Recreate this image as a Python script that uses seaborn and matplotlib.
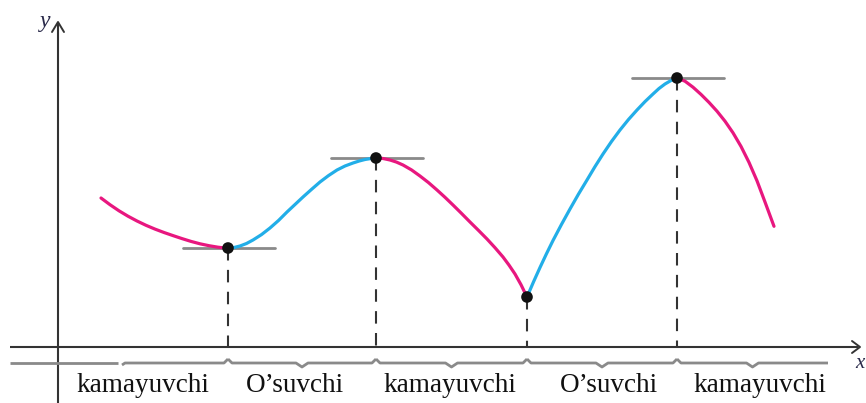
import matplotlib
matplotlib.use("Agg")
import matplotlib.pyplot as plt
import seaborn as sns
import pandas as pd

# ---- data (x measured from the y-axis, y measured up from the x-axis) ----
seg1_x = [43, 52, 61, 70, 79, 88, 97, 106, 115, 124, 133, 142, 151, 160, 165, 170]
seg1_y = [149, 142.3, 136.2, 130.8, 126, 121.7, 117.9, 114.5, 111.4, 108.4, 105.6,
          103.2, 101.3, 99.8, 99.25, 99]
seg2_x = [170, 176, 182, 188.5, 195, 203.5, 212, 220.5, 229, 237, 245, 253.5, 262,
          270.5, 279, 287, 295, 301, 307, 312.5, 318]
seg2_y = [99, 99.5, 101, 103.5, 107, 112.4, 119, 126.5, 135, 142.5, 150, 157.6, 165,
          171.4, 177, 181, 184, 185.95, 187.5, 188.4, 189]
seg3_x = [318, 325, 332, 338.5, 345, 353.5, 362, 370.5, 379, 387, 395, 403.5, 412,
          420.5, 429, 437, 445, 451, 457, 463, 469]
seg3_y = [189, 188.5, 187, 184.9, 182, 177.1, 171, 164.4, 157, 149.7, 142, 133.6, 125,
          116.6, 108, 99.3, 90, 81.9, 73, 62.3, 50]
seg4_x = [469, 475.5, 482, 488.5, 495, 503.5, 512, 520.5, 529, 537, 545, 553.5, 562,
          570.5, 579, 587, 595, 601, 607, 613, 619]
seg4_y = [50, 65.1, 79.5, 93.3, 106.5, 122.6, 138, 152.9, 167, 180.4, 193, 205.5, 217,
          227.5, 237, 245.4, 253, 258.5, 263, 266.5, 269]
seg5_x = [619, 627, 635, 643, 651, 659, 667, 675, 683, 691, 699, 707, 716]
seg5_y = [269, 265.8, 259.8, 252.6, 244.6, 235.8, 225.8, 214.2, 200.6, 184.6, 166.2,
          145, 120.7]

segments = [(seg1_x, seg1_y, "kamayuvchi"), (seg2_x, seg2_y, "O’suvchi"),
            (seg3_x, seg3_y, "kamayuvchi"), (seg4_x, seg4_y, "O’suvchi"),
            (seg5_x, seg5_y, "kamayuvchi")]

extrema_x = [170, 318, 469, 619]
extrema_y = [99, 189, 50, 269]
tangent_at = [True, True, False, True]

interval_labels = ["kamayuvchi", "O’suvchi", "kamayuvchi", "O’suvchi", "kamayuvchi"]
label_x = [85, 237, 392, 551, 702]
brace_bounds = [0, 170, 318, 469, 619, 770]

PINK = "#E8177F"
BLUE = "#22AEE8"
AX = "#333333"
GRAY = "#8A8A8A"

rows = []
for i, (xs, ys, kind) in enumerate(segments):
    for xv, yv in zip(xs, ys):
        rows.append({"x": xv, "y": yv, "seg": i, "kind": kind})
df = pd.DataFrame(rows)

sns.set_theme(style="white")
plt.rcParams["font.family"] = ["Liberation Serif", "DejaVu Serif"]

fig = plt.figure(figsize=(8.66, 4.03), dpi=100)
ax = fig.add_axes([0, 0, 1, 1])
ax.set_xlim(-58, 808)
ax.set_ylim(-56, 347)
ax.axis("off")

# axes with open arrowheads
ax.plot([-48, 800], [0, 0], color=AX, lw=1.5, solid_capstyle="butt")
ax.plot([794, 802, 794], [6, 0, -6], color=AX, lw=1.4)
ax.plot([0, 0], [-56, 324], color=AX, lw=1.5, solid_capstyle="butt")
ax.plot([-6, 0, 6], [315, 325, 315], color=AX, lw=1.4)
ax.text(-8, 325, "y", fontsize=17, style="italic", color="#2a2a4a",
        ha="right", va="center")
ax.text(797, -17, "x", fontsize=15, style="italic", color="#2a2a4a",
        ha="left", va="center")

# tangent lines
for xv, yv, t in zip(extrema_x, extrema_y, tangent_at):
    if t:
        ax.plot([xv - 45, xv + 47], [yv, yv], color=GRAY, lw=2, zorder=2)

# dashed drop lines
for xv, yv in zip(extrema_x, extrema_y):
    ax.plot([xv, xv], [yv, 0], color=AX, lw=1.5, dashes=(6, 4.5), zorder=1)

# curve
sns.lineplot(data=df, x="x", y="y", hue="kind", units="seg", estimator=None,
             palette={"kamayuvchi": PINK, "O’suvchi": BLUE}, lw=2.3,
             legend=False, ax=ax, zorder=3, sort=False)

# extrema points
sns.scatterplot(x=extrema_x, y=extrema_y, color="#111111", s=70, ax=ax,
                zorder=5, edgecolor="none")

# braces under the axis
by = -16
ax.plot([-48, 60], [by, by], color=GRAY, lw=2, solid_capstyle="butt")
for i in range(len(brace_bounds) - 1):
    a, b = brace_bounds[i], brace_bounds[i + 1]
    if i == 0:
        a = 64
        xs = [a, a + 3, b - 4, b]
        ys = [by - 2, by, by, by + 4]
    else:
        m = (a + b) / 2
        xs = [a, a + 4, m - 6, m, m + 6, b - 4, b]
        ys = [by + 4, by, by, by - 4, by, by, by + 4]
        if i == len(brace_bounds) - 2:
            xs = xs[:-2] + [b]
            ys = ys[:-2] + [by]
    ax.plot(xs, ys, color=GRAY, lw=2, solid_capstyle="butt")

for lx, lab in zip(label_x, interval_labels):
    ax.text(lx, -38, lab, fontsize=19.5, ha="center", va="center", color="#111111")

fig.savefig("out.png", dpi=100)
